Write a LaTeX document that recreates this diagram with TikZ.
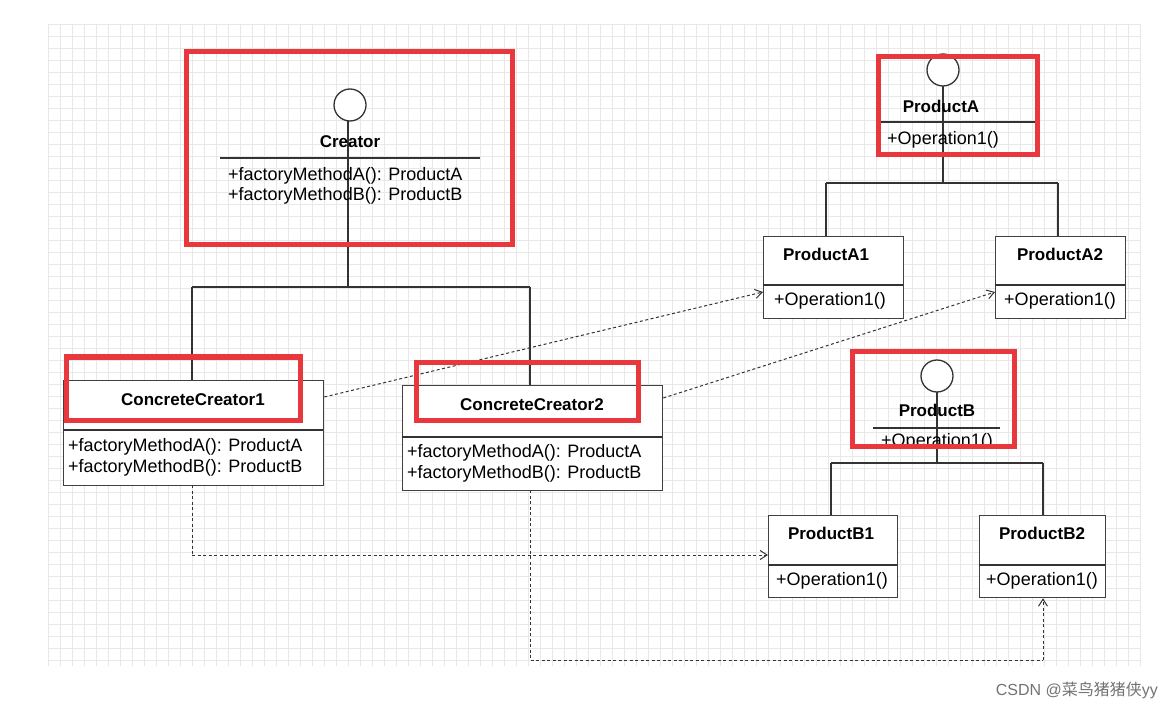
\documentclass[tikz,border=0pt]{standalone}
\usepackage{fontspec}
\setmainfont{Liberation Sans}
\newfontfamily\cjk{Noto Sans CJK SC}
\usetikzlibrary{arrows.meta}
\definecolor{redbox}{HTML}{E8383D}
\definecolor{gridc}{HTML}{E8E8E8}
\begin{document}
\begin{tikzpicture}[x=1pt,y=-1pt,
  txt/.style={inner sep=0pt,font=\fontsize{18}{20}\selectfont},
  nm/.style={txt,font=\fontsize{17}{19}\selectfont\bfseries},
  cls/.style={draw=black!75,line width=1.3pt,fill=white},
  red/.style={draw=redbox,line width=5pt},
  ln/.style={draw=black!80,line width=1.4pt},
  dep/.style={draw=black!80,line width=1pt,dash pattern=on 3pt off 2.5pt,-{Straight Barb[length=7pt,width=9pt]}},
  dl/.style={draw=black!80,line width=1pt,dash pattern=on 3pt off 2.5pt},
  circ/.style={draw=black!80,line width=1.3pt,fill=white,circle,minimum size=32pt,inner sep=0pt}]
\useasboundingbox (0,0) rectangle (1172,708);
\fill[white] (0,0) rectangle (1172,708);
\foreach \i in {0,...,91} {\draw[gridc,line width=0.5pt] (48+12*\i,24) -- (48+12*\i,666);}
\foreach \j in {0,...,53} {\draw[gridc,line width=0.5pt] (48,24+12*\j) -- (1140,24+12*\j);}
% Creator
\coordinate (cj) at (348,287);
\draw[ln] (348,105) -- (cj);
\node[circ] (cc) at (350,105) {};
\node[nm] (creator) at (350,142) {Creator};
\draw[ln] (220,158) -- (480,158);
\node[txt,anchor=west] (cma) at (228,176) {+factoryMethodA(): ProductA};
\node[txt,anchor=west] (cmb) at (228,196) {+factoryMethodB(): ProductB};
\draw[ln] (192,287) -- (530,287);
\draw[ln] (192,287) -- (192,380);
\draw[ln] (530,287) -- (530,385);
% CC1
\node[cls,minimum width=260pt,minimum height=105pt,anchor=north west] (cc1) at (63,380) {};
\draw[ln] (63,430) -- (323,430);
\node[nm] (cc1n) at (193,400) {ConcreteCreator1};
\node[txt,anchor=west] at (68,447) {+factoryMethodA(): ProductA};
\node[txt,anchor=west] at (68,468) {+factoryMethodB(): ProductB};
% CC2
\node[cls,minimum width=260pt,minimum height=105pt,anchor=north west] (cc2) at (402,385) {};
\draw[ln] (402,437) -- (662,437);
\node[nm] (cc2n) at (532,405) {ConcreteCreator2};
\node[txt,anchor=west] at (407,453) {+factoryMethodA(): ProductA};
\node[txt,anchor=west] at (407,474) {+factoryMethodB(): ProductB};
% ProductA
\draw[ln] (943,70) -- (943,183);
\node[circ] (pac) at (943,70) {};
\node[nm] (pa) at (941,106) {ProductA};
\draw[ln] (880,122) -- (1035,122);
\node[txt] at (943,140) {+Operation1()};
\draw[ln] (826,183) -- (1058,183);
\draw[ln] (826,183) -- (826,236);
\draw[ln] (1058,183) -- (1058,236);
\node[cls,minimum width=140pt,minimum height=82pt,anchor=north west] (pa1) at (763,236) {};
\draw[ln] (763,285) -- (903,285);
\node[nm] at (826,254) {ProductA1};
\node[txt] at (830,301) {+Operation1()};
\node[cls,minimum width=130pt,minimum height=82pt,anchor=north west] (pa2) at (995,236) {};
\draw[ln] (995,285) -- (1125,285);
\node[nm] at (1060,254) {ProductA2};
\node[txt] at (1060,301) {+Operation1()};
% ProductB
\draw[ln] (937,376) -- (937,463);
\node[circ] (pbc) at (937,376) {};
\node[nm] (pb) at (937,410) {ProductB};
\draw[ln] (873,428) -- (1000,428);
\begin{scope}
\clip (850,428) rectangle (1016,444);
\node[txt] at (937,442) {+Operation1()};
\end{scope}
\draw[ln] (831,463) -- (1043,463);
\draw[ln] (831,463) -- (831,515);
\draw[ln] (1043,463) -- (1043,515);
\node[cls,minimum width=129pt,minimum height=82pt,anchor=north west] (pb1) at (768,515) {};
\draw[ln] (768,565) -- (897,565);
\node[nm] at (831,533) {ProductB1};
\node[txt] at (832,581) {+Operation1()};
\node[cls,minimum width=126pt,minimum height=82pt,anchor=north west] (pb2) at (979,515) {};
\draw[ln] (979,565) -- (1105,565);
\node[nm] at (1042,533) {ProductB2};
\node[txt] at (1042,581) {+Operation1()};
% dependencies
\coordinate (d1) at (192,555);
\coordinate (d2a) at (530,660);
\coordinate (d2b) at (1043,660);
\draw[dep] (cc1.east |- 0,397) -- (pa1.west |- 0,292);
\draw[dep] (cc2.east |- 0,398) -- (pa2.west |- 0,292);
\draw[dl] (192,485) -- (d1);
\draw[dep] (d1) -- (pb1.west |- d1);
\draw[dl] (530,490) -- (d2a) -- (d2b);
\draw[dep] (d2b) -- (pb2.south -| d2b);
% red boxes
\draw[red] (186,52) rectangle (512,245);
\draw[red] (66,357) rectangle (300,420);
\draw[red] (416,362) rectangle (638,420);
\draw[red] (878,57) rectangle (1037,155);
\draw[red] (852,352) rectangle (1014,446);
% watermark
\node[txt,text=black!55,anchor=east,font=\fontsize{16}{18}\selectfont] at (1158,690) {CSDN @{\cjk 菜鸟猪猪侠}yy};
\end{tikzpicture}
\end{document}
